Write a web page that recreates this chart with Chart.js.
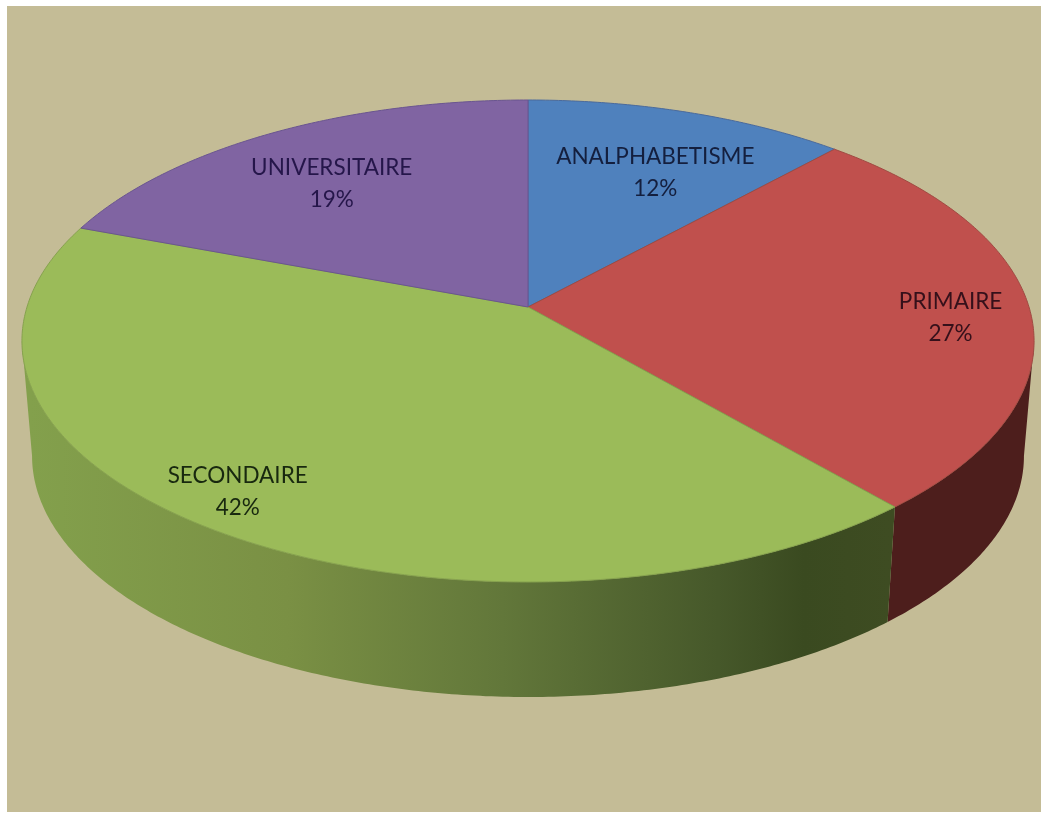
<!DOCTYPE html>
<html lang="fr">

<head>
    <meta charset="UTF-8">
    <title>Niveau d'instruction</title>
    <script src="https://cdn.jsdelivr.net/npm/chart.js"></script>
    <style>
        html, body { margin: 0; padding: 0; background: #fff; overflow: hidden; }
        canvas { display: block; }
    </style>
</head>

<body>
    <canvas id="camembert" width="1041" height="814"></canvas>

    <script>
        const categories = ['ANALPHABETISME', 'PRIMAIRE', 'SECONDAIRE', 'UNIVERSITAIRE'];
        const values = [11.8, 26.85, 42.05, 19.3];
        const colors = ['#4f81bd', '#c0504d', '#9bbb59', '#8064a2'];
        const edgeColors = ['#4a6a9c', '#a04a42', '#86a24e', '#6a5590'];
        const labelColors = ['#141f3e', '#35101a', '#18280f', '#25164a'];

        // rayon relatif de chaque etiquette sur le disque + petit decalage en pixels
        const labelRadius = [0.70, 0.87, 0.86, 0.71];
        const labelShiftX = [11, -14, -17, -9];
        const labelShiftY = [7, 8, 0, 4];

        // perspective du disque (haut et bas du cylindre)
        const view = { cx: 528, cy: 307, ax: 501, ay: 236.2, k: -0.1411, depth: 115, shrink: 0.98 };

        function project(angle, r, bottom) {
            const u = Math.cos(angle) * r;
            const v = Math.sin(angle) * r;
            const d = 1 + view.k * v;
            if (bottom) {
                return [view.cx + view.shrink * view.ax * u / d, view.cy + view.depth + view.ay * v / d];
            }
            return [view.cx + view.ax * u / d, view.cy + view.ay * v / d];
        }

        function traceArc(ctx, from, to, bottom) {
            const steps = Math.max(2, Math.ceil(Math.abs(to - from) / 0.01));
            for (let i = 0; i <= steps; i++) {
                const p = project(from + (to - from) * i / steps, 1, bottom);
                ctx.lineTo(p[0], p[1]);
            }
        }

        function wallFill(ctx, index) {
            if (index === 1) {
                return '#4d1e1c';
            }
            const g = ctx.createLinearGradient(30, 0, 890, 0);
            g.addColorStop(0, '#83a04c');
            g.addColorStop(0.3, '#7a9044');
            g.addColorStop(0.55, '#62773a');
            g.addColorStop(0.8, '#46582a');
            g.addColorStop(0.9, '#3a4a20');
            g.addColorStop(1, '#3e4c22');
            return g;
        }

        const pie3d = {
            id: 'pie3d',
            beforeDatasetDraw(chart) {
                const ctx = chart.ctx;
                const arcs = chart.getDatasetMeta(0).data;
                // la paroi s'arrete la ou le disque est le plus large
                const wallFrom = Math.asin(-view.k);
                const wallTo = Math.PI - wallFrom;

                ctx.save();
                // paroi avant
                arcs.forEach((arc, i) => {
                    const from = Math.max(arc.startAngle, wallFrom);
                    const to = Math.min(arc.endAngle, wallTo);
                    if (to <= from) return;
                    ctx.beginPath();
                    traceArc(ctx, from, to, false);
                    traceArc(ctx, to, from, true);
                    ctx.closePath();
                    ctx.fillStyle = wallFill(ctx, i);
                    ctx.fill();
                });

                // dessus du disque
                arcs.forEach((arc, i) => {
                    ctx.beginPath();
                    ctx.moveTo(view.cx, view.cy);
                    traceArc(ctx, arc.startAngle, arc.endAngle, false);
                    ctx.closePath();
                    ctx.fillStyle = arc.options.backgroundColor;
                    ctx.fill();
                    ctx.strokeStyle = edgeColors[i];
                    ctx.lineWidth = 1;
                    ctx.stroke();
                });

                // etiquettes
                ctx.font = '22.5px Lato';
                ctx.textAlign = 'center';
                ctx.textBaseline = 'middle';
                arcs.forEach((arc, i) => {
                    const mid = (arc.startAngle + arc.endAngle) / 2;
                    const p = project(mid, labelRadius[i], false);
                    const x = p[0] + labelShiftX[i];
                    const y = p[1] + labelShiftY[i];
                    ctx.fillStyle = labelColors[i];
                    ctx.fillText(categories[i], x, y - 16);
                    ctx.fillText(Math.round(values[i]) + '%', x, y + 16);
                });
                ctx.restore();
                return false;
            }
        };

        const fond = {
            id: 'fond',
            beforeDraw(chart) {
                const ctx = chart.ctx;
                ctx.save();
                ctx.fillStyle = '#c4bc96';
                ctx.fillRect(7, 6, 1034, 806);
                ctx.restore();
            }
        };

        new Chart(document.getElementById('camembert'), {
            type: 'pie',
            data: {
                labels: categories,
                datasets: [{
                    data: values,
                    backgroundColor: colors,
                    borderWidth: 0
                }]
            },
            options: {
                responsive: false,
                animation: false,
                events: [],
                plugins: {
                    legend: { display: false },
                    tooltip: { enabled: false }
                }
            },
            plugins: [fond, pie3d]
        });
    </script>
</body>

</html>
